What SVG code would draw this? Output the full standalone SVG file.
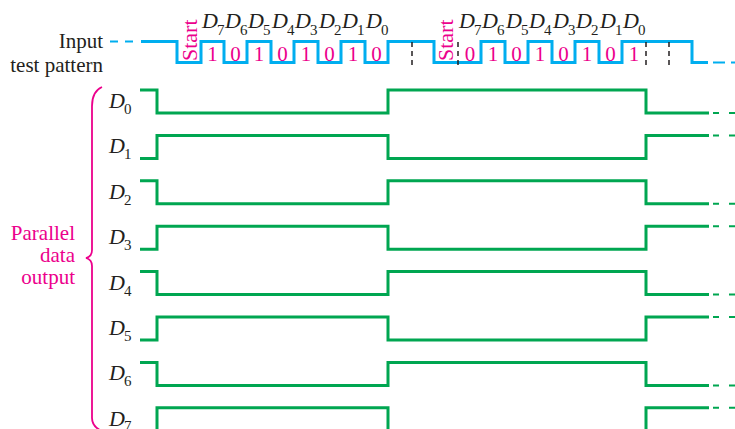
<svg xmlns="http://www.w3.org/2000/svg" width="735" height="429" viewBox="0 0 735 429">
<style>
.lbl{font-family:"Liberation Serif","Times New Roman",serif;font-size:21px;fill:#231f20}
.mag{font-family:"Liberation Serif","Times New Roman",serif;fill:#ec008c}
.d{font-family:"Liberation Serif","Times New Roman",serif;font-style:italic;font-size:22px;fill:#231f20}
.sub{font-family:"Liberation Serif","Times New Roman",serif;font-size:15px;fill:#231f20}
.bit{font-family:"Liberation Serif","Times New Roman",serif;font-size:21px;fill:#ec008c;text-anchor:middle}
.blue{fill:none;stroke:#00aeef;stroke-width:3}
.bluedash{fill:none;stroke:#00aeef;stroke-width:2}
.green{fill:none;stroke:#00a651;stroke-width:3}
.greendash{fill:none;stroke:#00a651;stroke-width:2;stroke-dasharray:6 10}
.vdash{fill:none;stroke:#231f20;stroke-width:1.5;stroke-dasharray:5 4}
</style>
<rect width="735" height="429" fill="#fff"/>

<g id="input-label">
<text class="lbl" x="103" y="48" text-anchor="end">Input</text>
<text class="lbl" x="103" y="72" text-anchor="end">test pattern</text>
</g>

<g id="input-wave">
<path class="bluedash" d="M110,41.5 H135" stroke-dasharray="8 7"/>
<path class="blue" d="M141,41.5 H177 V62.5 H201 V41.5 H224 V62.5 H247 V41.5 H271 V62.5 H294 V41.5 H318 V62.5 H341 V41.5 H365 V62.5 H388 V41.5 H434 V62.5 H481 V41.5 H505 V62.5 H528 V41.5 H552 V62.5 H575 V41.5 H599 V62.5 H622 V41.5 H692 V62.5 H708"/>
<path class="bluedash" d="M713,62.5 H735" stroke-dasharray="12 6"/>
<path class="vdash" d="M412,42 V66 M458,42 V66 M646,42 V66 M669,42 V66"/>
<text class="mag" font-size="22" transform="translate(197,61) rotate(-90)">Start</text>
<text class="mag" font-size="22" transform="translate(453,61) rotate(-90)">Start</text>
</g>

<g id="bit-labels">
<text class="d" x="202" y="28">D</text><text class="sub" x="217" y="35">7</text>
<text class="d" x="225" y="28">D</text><text class="sub" x="240" y="35">6</text>
<text class="d" x="248" y="28">D</text><text class="sub" x="263" y="35">5</text>
<text class="d" x="272" y="28">D</text><text class="sub" x="287" y="35">4</text>
<text class="d" x="295" y="28">D</text><text class="sub" x="310" y="35">3</text>
<text class="d" x="319" y="28">D</text><text class="sub" x="334" y="35">2</text>
<text class="d" x="342" y="28">D</text><text class="sub" x="357" y="35">1</text>
<text class="d" x="366" y="28">D</text><text class="sub" x="381" y="35">0</text>
<text class="d" x="459" y="28">D</text><text class="sub" x="474" y="35">7</text>
<text class="d" x="482" y="28">D</text><text class="sub" x="497" y="35">6</text>
<text class="d" x="506" y="28">D</text><text class="sub" x="521" y="35">5</text>
<text class="d" x="529" y="28">D</text><text class="sub" x="544" y="35">4</text>
<text class="d" x="553" y="28">D</text><text class="sub" x="568" y="35">3</text>
<text class="d" x="576" y="28">D</text><text class="sub" x="591" y="35">2</text>
<text class="d" x="600" y="28">D</text><text class="sub" x="615" y="35">1</text>
<text class="d" x="623" y="28">D</text><text class="sub" x="638" y="35">0</text>
</g>

<g id="bit-values">
<text class="bit" x="212.5" y="61">1</text>
<text class="bit" x="235.5" y="61">0</text>
<text class="bit" x="259" y="61">1</text>
<text class="bit" x="282.5" y="61">0</text>
<text class="bit" x="306" y="61">1</text>
<text class="bit" x="329.5" y="61">0</text>
<text class="bit" x="353" y="61">1</text>
<text class="bit" x="376.5" y="61">0</text>
<text class="bit" x="470" y="61">0</text>
<text class="bit" x="493" y="61">1</text>
<text class="bit" x="516.5" y="61">0</text>
<text class="bit" x="540" y="61">1</text>
<text class="bit" x="563.5" y="61">0</text>
<text class="bit" x="587" y="61">1</text>
<text class="bit" x="610.5" y="61">0</text>
<text class="bit" x="634" y="61">1</text>
</g>

<g id="output-label">
<path d="M102,87 C95,90 92,96 92,106 V250 Q92,256.5 86,258 Q92,259.5 92,266 V418 C92,424 95,428 102,431" fill="none" stroke="#ec008c" stroke-width="1.8"/>
<text class="mag" font-size="21" x="75" y="240" text-anchor="end">Parallel</text>
<text class="mag" font-size="21" x="75" y="262" text-anchor="end">data</text>
<text class="mag" font-size="21" x="75" y="284" text-anchor="end">output</text>
</g>

<g id="out-D0"><text class="d" x="109" y="108">D</text><text class="sub" x="124" y="114">0</text>
<path class="green" d="M140,90 H157 V113 H388 V90 H646 V113 H709"/><path class="greendash" d="M713,113 H735"/></g>
<g id="out-D1"><text class="d" x="109" y="153.4">D</text><text class="sub" x="124" y="159.4">1</text>
<path class="green" d="M140,158.4 H157 V135.4 H388 V158.4 H646 V135.4 H709"/><path class="greendash" d="M713,135.4 H735"/></g>
<g id="out-D2"><text class="d" x="109" y="198.8">D</text><text class="sub" x="124" y="204.8">2</text>
<path class="green" d="M140,180.8 H157 V203.8 H388 V180.8 H646 V203.8 H709"/><path class="greendash" d="M713,203.8 H735"/></g>
<g id="out-D3"><text class="d" x="109" y="244.2">D</text><text class="sub" x="124" y="250.2">3</text>
<path class="green" d="M140,249.2 H157 V226.2 H388 V249.2 H646 V226.2 H709"/><path class="greendash" d="M713,226.2 H735"/></g>
<g id="out-D4"><text class="d" x="109" y="289.6">D</text><text class="sub" x="124" y="295.6">4</text>
<path class="green" d="M140,271.6 H157 V294.6 H388 V271.6 H646 V294.6 H709"/><path class="greendash" d="M713,294.6 H735"/></g>
<g id="out-D5"><text class="d" x="109" y="335">D</text><text class="sub" x="124" y="341">5</text>
<path class="green" d="M140,340 H157 V317 H388 V340 H646 V317 H709"/><path class="greendash" d="M713,317 H735"/></g>
<g id="out-D6"><text class="d" x="109" y="380.4">D</text><text class="sub" x="124" y="386.4">6</text>
<path class="green" d="M140,362.4 H157 V385.4 H388 V362.4 H646 V385.4 H709"/><path class="greendash" d="M713,385.4 H735"/></g>
<g id="out-D7"><text class="d" x="109" y="425.8">D</text><text class="sub" x="124" y="431">7</text>
<path class="green" d="M140,430.8 H157 V407.8 H388 V430.8 H646 V407.8 H709"/><path class="greendash" d="M713,407.8 H735"/></g>
</svg>
